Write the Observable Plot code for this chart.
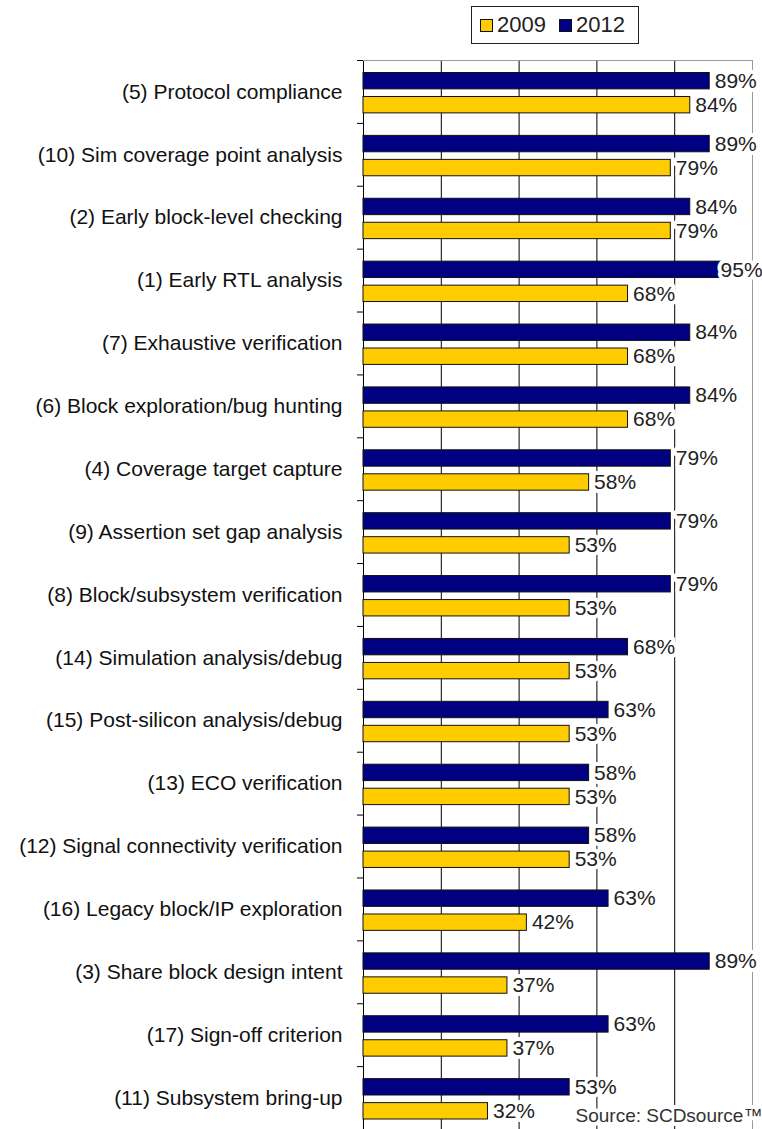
<!DOCTYPE html>
<html>
<head>
<meta charset="utf-8">
<script src="https://cdn.jsdelivr.net/npm/d3@7"></script>
<script src="https://cdn.jsdelivr.net/npm/@observablehq/plot@0.6"></script>
<style>
  html, body { margin: 0; padding: 0; background: #fff; }
  body { font-family: "Liberation Sans", Arial, sans-serif; color: #111; width: 762px; }
  #legend { position: relative; height: 59px; width: 762px; }
  #legend .box {
    position: absolute; left: 471px; top: 6px; width: 168px; height: 38px;
    box-sizing: border-box; border: 1px solid #222; background: #fff;
    display: flex; align-items: center; padding-left: 8px;
  }
  #legend .item { display: flex; align-items: center; width: 80px; }
  #legend .sw { width: 13px; height: 13px; box-sizing: border-box; border: 1px solid #111; margin-right: 4px; }
  #legend .lbl { font-size: 22px; line-height: 1; color: #222; }
</style>
</head>
<body>
<div id="legend"></div>
<div id="chart"></div>
<script>
// ---- data ----
const categories = [
  "(5) Protocol compliance",
  "(10) Sim coverage point analysis",
  "(2) Early block-level checking",
  "(1) Early RTL analysis",
  "(7) Exhaustive verification",
  "(6) Block exploration/bug hunting",
  "(4) Coverage target capture",
  "(9) Assertion set gap analysis",
  "(8) Block/subsystem verification",
  "(14) Simulation analysis/debug",
  "(15) Post-silicon analysis/debug",
  "(13) ECO verification",
  "(12) Signal connectivity verification",
  "(16) Legacy block/IP exploration",
  "(3) Share block design intent",
  "(17) Sign-off criterion",
  "(11) Subsystem bring-up"
];
const values2012 = [89, 89, 84, 95, 84, 84, 79, 79, 79, 68, 63, 58, 58, 63, 89, 63, 53];
const values2009 = [84, 79, 79, 68, 68, 68, 58, 53, 53, 53, 53, 53, 53, 42, 37, 37, 32];
const seriesNames = ["2009", "2012"];
const seriesColors = ["#FFCC00", "#000080"];
const gridTicks = [0, 20, 40, 60, 80, 100];
const sourceNote = "Source: SCDsource\u2122";

// ---- legend ----
const box = document.createElement("div");
box.className = "box";
seriesNames.forEach((name, i) => {
  const item = document.createElement("div");
  item.className = "item";
  const sw = document.createElement("span");
  sw.className = "sw";
  sw.style.background = seriesColors[i];
  const lb = document.createElement("span");
  lb.className = "lbl";
  lb.textContent = name;
  item.appendChild(sw); item.appendChild(lb);
  box.appendChild(item);
});
document.getElementById("legend").appendChild(box);

// ---- chart ----
const rows = categories.map((c, i) => ({c, v2012: values2012[i], v2009: values2009[i]}));
const H = 1070, MT = 1, MB = 0;
const band = (H - MT - MB) / categories.length;
const font = "'Liberation Sans', Arial, sans-serif";
const labelMax = 90.5;

const chart = Plot.plot({
  width: 762,
  height: H,
  marginTop: MT,
  marginBottom: MB,
  marginLeft: 363,
  marginRight: 10,
  x: {domain: [0, 100], axis: null},
  y: {domain: categories, padding: 0, round: false, label: null, tickSize: 0, tickPadding: 21},
  style: {fontFamily: font, fontSize: "21px", color: "#111", background: "#fff", overflow: "visible"},
  marks: [
    Plot.ruleX(gridTicks.filter(t => t < 100), {stroke: "#000", strokeWidth: 1}),
    Plot.ruleX(gridTicks.filter(t => t === 100), {stroke: "#9a9a9a", strokeWidth: 1}),
    Plot.ruleY([categories[0]], {y: d => d, x1: 0, x2: 100, dy: -band / 2, stroke: "#9a9a9a"}),
    Plot.ruleY(categories, {y: d => d, x1: 0, x2: 0, insetLeft: -6, dy: -band / 2, stroke: "#000"}),
    Plot.barX(rows, {y: "c", x: "v2012", fill: seriesColors[1], stroke: "#111", strokeWidth: 1, insetTop: 12.5, insetBottom: 34}),
    Plot.barX(rows, {y: "c", x: "v2009", fill: seriesColors[0], stroke: "#111", strokeWidth: 1, insetTop: 36.5, insetBottom: 10}),
    Plot.text(rows, {y: "c", x: d => Math.min(d.v2012, labelMax), text: d => d.v2012 + "%",
      textAnchor: "start", dx: 5, dy: -10.8, fontSize: 21, fill: "#222",
      stroke: "#fff", strokeWidth: 8, strokeLinejoin: "round", paintOrder: "stroke"}),
    Plot.text(rows, {y: "c", x: d => Math.min(d.v2009, labelMax), text: d => d.v2009 + "%",
      textAnchor: "start", dx: 5, dy: 13.2, fontSize: 21, fill: "#222",
      stroke: "#fff", strokeWidth: 8, strokeLinejoin: "round", paintOrder: "stroke"}),
    Plot.text([sourceNote], {frameAnchor: "bottom-right", textAnchor: "start", lineAnchor: "middle",
      dx: -177, dy: -14, fontSize: 19, fill: "#333",
      stroke: "#fff", strokeWidth: 8, strokeLinejoin: "round", paintOrder: "stroke"})
  ]
});
document.getElementById("chart").appendChild(chart);
</script>
</body>
</html>
